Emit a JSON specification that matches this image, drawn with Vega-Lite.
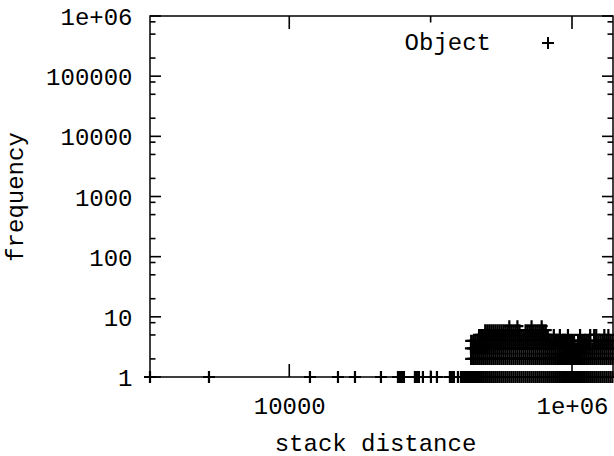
{
  "$schema": "https://vega.github.io/schema/vega-lite/v6.json",
  "width": 463,
  "height": 361,
  "autosize": {"type": "none"},
  "padding": {"left": 150, "top": 16, "right": 1, "bottom": 79},
  "background": "white",
  "config": {
    "font": "Liberation Mono",
    "view": {"stroke": "black", "strokeWidth": 1.5},
    "axis": {
      "domain": false,
      "ticks": false,
      "grid": false,
      "labelFlush": false,
      "labelOverlap": false
    }
  },
  "datasets": {
    "hist": [
      {"d": 1035, "f": 1}, {"d": 2705, "f": 1}, {"d": 14010, "f": 1}, {"d": 22110, "f": 1},
      {"d": 29170, "f": 1}, {"d": 44530, "f": 1}, {"d": 58740, "f": 1}, {"d": 60680, "f": 1},
      {"d": 62680, "f": 1}, {"d": 64750, "f": 1}, {"d": 77450, "f": 1}, {"d": 80010, "f": 1},
      {"d": 82660, "f": 1}, {"d": 88210, "f": 1}, {"d": 100500, "f": 1}, {"d": 110830, "f": 1},
      {"d": 136930, "f": 1}, {"d": 141480, "f": 1}, {"d": 146140, "f": 1}, {"d": 156000, "f": 1},
      {"d": 163790, "f": 1},
      {"d": 169270, "f": 1}, {"d": 174930, "f": 1}, {"d": 180780, "f": 1}, {"d": 186830, "f": 1},
      {"d": 193070, "f": 1}, {"d": 199530, "f": 1}, {"d": 206200, "f": 1}, {"d": 213100, "f": 1},
      {"d": 220230, "f": 1}, {"d": 227600, "f": 1}, {"d": 235210, "f": 1}, {"d": 243080, "f": 1},
      {"d": 251190, "f": 1}, {"d": 259590, "f": 1}, {"d": 268270, "f": 1}, {"d": 277250, "f": 1},
      {"d": 286520, "f": 1}, {"d": 296110, "f": 1}, {"d": 306020, "f": 1}, {"d": 316230, "f": 1},
      {"d": 326800, "f": 1}, {"d": 337730, "f": 1}, {"d": 349030, "f": 1}, {"d": 360710, "f": 1},
      {"d": 372760, "f": 1}, {"d": 385230, "f": 1}, {"d": 398110, "f": 1}, {"d": 411420, "f": 1},
      {"d": 425180, "f": 1}, {"d": 439400, "f": 1}, {"d": 454100, "f": 1}, {"d": 469290, "f": 1},
      {"d": 484990, "f": 1}, {"d": 501190, "f": 1}, {"d": 517950, "f": 1}, {"d": 535270, "f": 1},
      {"d": 553170, "f": 1}, {"d": 571670, "f": 1}, {"d": 590790, "f": 1}, {"d": 610540, "f": 1},
      {"d": 630960, "f": 1}, {"d": 652060, "f": 1}, {"d": 673860, "f": 1}, {"d": 696400, "f": 1},
      {"d": 719690, "f": 1}, {"d": 743760, "f": 1}, {"d": 768630, "f": 1}, {"d": 794330, "f": 1},
      {"d": 820900, "f": 1}, {"d": 848340, "f": 1}, {"d": 876720, "f": 1}, {"d": 906040, "f": 1},
      {"d": 936330, "f": 1}, {"d": 967650, "f": 1}, {"d": 1000000, "f": 1}, {"d": 1033400, "f": 1},
      {"d": 1068000, "f": 1}, {"d": 1103700, "f": 1}, {"d": 1140600, "f": 1}, {"d": 1178800, "f": 1},
      {"d": 1218200, "f": 1}, {"d": 1258900, "f": 1}, {"d": 1301000, "f": 1}, {"d": 1344500, "f": 1},
      {"d": 1389500, "f": 1}, {"d": 1436000, "f": 1}, {"d": 1484000, "f": 1}, {"d": 1533700, "f": 1},
      {"d": 1584900, "f": 1}, {"d": 1637900, "f": 1}, {"d": 1692700, "f": 1}, {"d": 1749300, "f": 1},
      {"d": 1807800, "f": 1}, {"d": 1868300, "f": 1}, {"d": 1930700, "f": 1},

      {"d": 193383, "f": 2}, {"d": 192783, "f": 3}, {"d": 193521, "f": 4},
      {"d": 199843, "f": 2}, {"d": 199243, "f": 3}, {"d": 199981, "f": 4},
      {"d": 206513, "f": 2}, {"d": 205913, "f": 3}, {"d": 206651, "f": 4},
      {"d": 213413, "f": 2}, {"d": 212813, "f": 3}, {"d": 213551, "f": 4},
      {"d": 220543, "f": 2}, {"d": 219943, "f": 3}, {"d": 220681, "f": 4}, {"d": 220101, "f": 5},
      {"d": 227913, "f": 2}, {"d": 227313, "f": 3}, {"d": 228051, "f": 4}, {"d": 227471, "f": 5},
      {"d": 235523, "f": 2}, {"d": 234923, "f": 3}, {"d": 235661, "f": 4}, {"d": 235081, "f": 5},
      {"d": 243393, "f": 2}, {"d": 242793, "f": 3}, {"d": 243531, "f": 4}, {"d": 242951, "f": 5}, {"d": 243287, "f": 6},
      {"d": 251503, "f": 2}, {"d": 250903, "f": 3}, {"d": 251641, "f": 4}, {"d": 251061, "f": 5}, {"d": 251397, "f": 6},
      {"d": 259903, "f": 2}, {"d": 259303, "f": 3}, {"d": 260041, "f": 4}, {"d": 259461, "f": 5}, {"d": 259797, "f": 6},
      {"d": 268583, "f": 2}, {"d": 267983, "f": 3}, {"d": 268721, "f": 4}, {"d": 268141, "f": 5}, {"d": 268477, "f": 6},
      {"d": 277563, "f": 2}, {"d": 276963, "f": 3}, {"d": 277701, "f": 4}, {"d": 277121, "f": 5}, {"d": 277457, "f": 6},
      {"d": 286833, "f": 2}, {"d": 286233, "f": 3}, {"d": 286971, "f": 4}, {"d": 286391, "f": 5}, {"d": 286727, "f": 6},
      {"d": 296423, "f": 2}, {"d": 295823, "f": 3}, {"d": 296561, "f": 4}, {"d": 295981, "f": 5}, {"d": 296317, "f": 6},
      {"d": 306333, "f": 2}, {"d": 305733, "f": 3}, {"d": 306471, "f": 4}, {"d": 305891, "f": 5}, {"d": 306227, "f": 6},
      {"d": 316543, "f": 2}, {"d": 315943, "f": 3}, {"d": 316681, "f": 4}, {"d": 316101, "f": 5}, {"d": 316437, "f": 6},
      {"d": 327113, "f": 2}, {"d": 326513, "f": 3}, {"d": 327251, "f": 4}, {"d": 326671, "f": 5}, {"d": 327007, "f": 6},
      {"d": 338043, "f": 2}, {"d": 337443, "f": 3}, {"d": 338181, "f": 4}, {"d": 337601, "f": 5}, {"d": 337937, "f": 6},
      {"d": 349343, "f": 2}, {"d": 348743, "f": 3}, {"d": 349481, "f": 4}, {"d": 348901, "f": 5}, {"d": 349237, "f": 6},
      {"d": 361023, "f": 2}, {"d": 360423, "f": 3}, {"d": 361161, "f": 4}, {"d": 360581, "f": 5}, {"d": 360917, "f": 6}, {"d": 360339, "f": 7},
      {"d": 373073, "f": 2}, {"d": 372473, "f": 3}, {"d": 373211, "f": 4}, {"d": 372631, "f": 5}, {"d": 372967, "f": 6},
      {"d": 385543, "f": 2}, {"d": 384943, "f": 3}, {"d": 385681, "f": 4}, {"d": 385101, "f": 5}, {"d": 385437, "f": 6},
      {"d": 398423, "f": 2}, {"d": 397823, "f": 3}, {"d": 398561, "f": 4}, {"d": 397981, "f": 5}, {"d": 398317, "f": 6},
      {"d": 411733, "f": 2}, {"d": 411133, "f": 3}, {"d": 411871, "f": 4}, {"d": 411291, "f": 5}, {"d": 411627, "f": 6}, {"d": 411049, "f": 7},
      {"d": 425493, "f": 2}, {"d": 424893, "f": 3}, {"d": 425631, "f": 4}, {"d": 425051, "f": 5}, {"d": 425387, "f": 6},
      {"d": 439713, "f": 2}, {"d": 439113, "f": 3}, {"d": 439851, "f": 4}, {"d": 439271, "f": 5},
      {"d": 454413, "f": 2}, {"d": 453813, "f": 3}, {"d": 454551, "f": 4}, {"d": 453971, "f": 5},
      {"d": 469603, "f": 2}, {"d": 469003, "f": 3}, {"d": 469741, "f": 4}, {"d": 469161, "f": 5}, {"d": 469497, "f": 6},
      {"d": 485303, "f": 2}, {"d": 484703, "f": 3}, {"d": 485441, "f": 4}, {"d": 484861, "f": 5}, {"d": 485197, "f": 6},
      {"d": 501503, "f": 2}, {"d": 500903, "f": 3}, {"d": 501641, "f": 4}, {"d": 501061, "f": 5}, {"d": 501397, "f": 6},
      {"d": 518263, "f": 2}, {"d": 517663, "f": 3}, {"d": 518401, "f": 4}, {"d": 517821, "f": 5}, {"d": 518157, "f": 6}, {"d": 517579, "f": 7},
      {"d": 535583, "f": 2}, {"d": 534983, "f": 3}, {"d": 535721, "f": 4}, {"d": 535141, "f": 5}, {"d": 535477, "f": 6},
      {"d": 553483, "f": 2}, {"d": 552883, "f": 3}, {"d": 553621, "f": 4}, {"d": 553041, "f": 5}, {"d": 553377, "f": 6},
      {"d": 571983, "f": 2}, {"d": 571383, "f": 3}, {"d": 572121, "f": 4}, {"d": 571541, "f": 5}, {"d": 571877, "f": 6},
      {"d": 591103, "f": 2}, {"d": 590503, "f": 3}, {"d": 591241, "f": 4}, {"d": 590661, "f": 5}, {"d": 590997, "f": 6},
      {"d": 610853, "f": 2}, {"d": 610253, "f": 3}, {"d": 610991, "f": 4}, {"d": 610411, "f": 5}, {"d": 610747, "f": 6}, {"d": 610169, "f": 7},
      {"d": 631273, "f": 2}, {"d": 630673, "f": 3}, {"d": 631411, "f": 4}, {"d": 630831, "f": 5}, {"d": 631167, "f": 6},
      {"d": 652373, "f": 2}, {"d": 651773, "f": 3}, {"d": 652511, "f": 4}, {"d": 651931, "f": 5}, {"d": 652267, "f": 6},
      {"d": 674173, "f": 2}, {"d": 673573, "f": 3}, {"d": 674311, "f": 4}, {"d": 673731, "f": 5},
      {"d": 696713, "f": 2}, {"d": 696113, "f": 3}, {"d": 696851, "f": 4},
      {"d": 720003, "f": 2}, {"d": 719403, "f": 3}, {"d": 720141, "f": 4},
      {"d": 744073, "f": 2}, {"d": 743473, "f": 3}, {"d": 744211, "f": 4}, {"d": 743631, "f": 5},
      {"d": 768943, "f": 2}, {"d": 768343, "f": 3}, {"d": 769081, "f": 4},
      {"d": 794643, "f": 2}, {"d": 794043, "f": 3}, {"d": 794781, "f": 4},
      {"d": 821213, "f": 2}, {"d": 820613, "f": 3}, {"d": 821351, "f": 4}, {"d": 820771, "f": 5},
      {"d": 848653, "f": 2}, {"d": 848053, "f": 3}, {"d": 848791, "f": 4},
      {"d": 877033, "f": 2}, {"d": 876433, "f": 3}, {"d": 877171, "f": 4},
      {"d": 906353, "f": 2}, {"d": 905753, "f": 3}, {"d": 906491, "f": 4},
      {"d": 936643, "f": 2}, {"d": 936043, "f": 3}, {"d": 936781, "f": 4}, {"d": 936201, "f": 5},
      {"d": 967963, "f": 2}, {"d": 967363, "f": 3}, {"d": 968101, "f": 4},
      {"d": 1000313, "f": 2}, {"d": 999713, "f": 3}, {"d": 1000451, "f": 4},
      {"d": 1033713, "f": 2}, {"d": 1033113, "f": 3}, {"d": 1033851, "f": 4},
      {"d": 1068313, "f": 2}, {"d": 1067713, "f": 3},
      {"d": 1104013, "f": 2}, {"d": 1103413, "f": 3}, {"d": 1104151, "f": 4},
      {"d": 1140913, "f": 2}, {"d": 1140313, "f": 3}, {"d": 1141051, "f": 4}, {"d": 1140471, "f": 5},
      {"d": 1179113, "f": 2}, {"d": 1178513, "f": 3}, {"d": 1179251, "f": 4},
      {"d": 1218513, "f": 2}, {"d": 1217913, "f": 3}, {"d": 1218651, "f": 4},
      {"d": 1259213, "f": 2}, {"d": 1258613, "f": 3}, {"d": 1259351, "f": 4},
      {"d": 1301313, "f": 2}, {"d": 1300713, "f": 3}, {"d": 1301451, "f": 4},
      {"d": 1344813, "f": 2}, {"d": 1344213, "f": 3}, {"d": 1344951, "f": 4}, {"d": 1344371, "f": 5},
      {"d": 1389813, "f": 2}, {"d": 1389213, "f": 3},
      {"d": 1436313, "f": 2}, {"d": 1435713, "f": 3}, {"d": 1436451, "f": 4}, {"d": 1435871, "f": 5},
      {"d": 1484313, "f": 2}, {"d": 1483713, "f": 3}, {"d": 1484451, "f": 4}, {"d": 1483871, "f": 5},
      {"d": 1534013, "f": 2}, {"d": 1533413, "f": 3}, {"d": 1534151, "f": 4},
      {"d": 1585213, "f": 2}, {"d": 1584613, "f": 3}, {"d": 1585351, "f": 4},
      {"d": 1638213, "f": 2}, {"d": 1637613, "f": 3}, {"d": 1638351, "f": 4},
      {"d": 1693013, "f": 2}, {"d": 1692413, "f": 3}, {"d": 1693151, "f": 4}, {"d": 1692571, "f": 5},
      {"d": 1749613, "f": 2}, {"d": 1749013, "f": 3}, {"d": 1749751, "f": 4},
      {"d": 1808113, "f": 2}, {"d": 1807513, "f": 3}, {"d": 1808251, "f": 4}, {"d": 1807671, "f": 5},
      {"d": 1868613, "f": 2}, {"d": 1868013, "f": 3}, {"d": 1868751, "f": 4},
      {"d": 1931013, "f": 2}, {"d": 1930413, "f": 3}, {"d": 1931151, "f": 4}
    ],
    "xMajor": [{"v": 10000}, {"v": 1000000}],
    "xMinor": [{"v": 100000}],
    "yMajor": [{"v": 1}, {"v": 10}, {"v": 100}, {"v": 1000}, {"v": 10000}, {"v": 100000}, {"v": 1000000}],
    "yMinor": [
      {"v": 2}, {"v": 5}, {"v": 8}, {"v": 20}, {"v": 50}, {"v": 80},
      {"v": 200}, {"v": 500}, {"v": 800}, {"v": 2000}, {"v": 5000}, {"v": 8000},
      {"v": 20000}, {"v": 50000}, {"v": 80000}, {"v": 200000}, {"v": 500000}, {"v": 800000}
    ]
  },
  "layer": [
    {
      "data": {"name": "hist"},
      "mark": {"type": "point", "shape": "M-1,0L1,0M0,-1L0,1", "filled": false, "size": 144, "strokeWidth": 2.2, "opacity": 1},
      "encoding": {
        "x": {
          "field": "d", "type": "quantitative",
          "scale": {"type": "log", "domain": [1035, 1950000], "nice": false},
          "axis": {
            "orient": "bottom", "values": [10000, 1000000], "ticks": false,
            "labelPadding": 36, "labelBaseline": "alphabetic",
            "labelFont": "Liberation Mono", "labelFontSize": 24, "labelColor": "black",
            "labelExpr": "datum.value >= 1000000 ? '1e+06' : format(datum.value, 'd')",
            "title": "stack distance", "titleX": 225, "titleY": 73,
            "titleFont": "Liberation Mono", "titleFontSize": 24, "titleFontWeight": "normal", "titleColor": "black",
            "titleBaseline": "alphabetic", "titleAlign": "center"
          }
        },
        "y": {
          "field": "f", "type": "quantitative",
          "scale": {"type": "log", "domain": [1, 1000000], "nice": false},
          "axis": {
            "orient": "left", "values": [1, 10, 100, 1000, 10000, 100000, 1000000], "ticks": false,
            "labelPadding": 18, "labelBaseline": "alphabetic", "labelOffset": 8.5, "labelAlign": "right",
            "labelFont": "Liberation Mono", "labelFontSize": 24, "labelColor": "black",
            "labelExpr": "datum.value >= 1000000 ? '1e+06' : format(datum.value, 'd')",
            "title": "frequency", "titleAngle": 270, "titleX": -128, "titleY": 180.5,
            "titleFont": "Liberation Mono", "titleFontSize": 24, "titleFontWeight": "normal", "titleColor": "black",
            "titleBaseline": "alphabetic", "titleAlign": "center"
          }
        },
        "color": {
          "datum": "Object",
          "scale": {"range": ["black"]},
          "legend": {
            "title": null, "orient": "none", "legendX": 386, "legendY": 15, "padding": 0,
            "symbolType": "M-1,0L1,0M0,-1L0,1", "symbolSize": 144, "symbolStrokeWidth": 2,
            "symbolStrokeColor": "black", "symbolFillColor": "transparent",
            "labelAlign": "right", "labelOffset": -69, "labelBaseline": "middle",
            "labelFont": "Liberation Mono", "labelFontSize": 24, "labelColor": "black", "labelLimit": 0
          }
        }
      }
    },
    {
      "data": {"name": "xMajor"},
      "mark": {"type": "rule", "color": "black", "strokeWidth": 1.6, "opacity": 1},
      "encoding": {
        "x": {"field": "v", "type": "quantitative"},
        "y": {"datum": 1, "type": "quantitative"},
        "y2": {"datum": 1.6445}
      }
    },
    {
      "data": {"name": "xMajor"},
      "mark": {"type": "rule", "color": "black", "strokeWidth": 1.6, "opacity": 1},
      "encoding": {
        "x": {"field": "v", "type": "quantitative"},
        "y": {"datum": 1000000, "type": "quantitative"},
        "y2": {"datum": 608090}
      }
    },
    {
      "data": {"name": "xMinor"},
      "mark": {"type": "rule", "color": "black", "strokeWidth": 1.6, "opacity": 1},
      "encoding": {
        "x": {"field": "v", "type": "quantitative"},
        "y": {"datum": 1, "type": "quantitative"},
        "y2": {"datum": 1.2824}
      }
    },
    {
      "data": {"name": "xMinor"},
      "mark": {"type": "rule", "color": "black", "strokeWidth": 1.6, "opacity": 1},
      "encoding": {
        "x": {"field": "v", "type": "quantitative"},
        "y": {"datum": 1000000, "type": "quantitative"},
        "y2": {"datum": 779800}
      }
    },
    {
      "data": {"name": "yMajor"},
      "mark": {"type": "rule", "color": "black", "strokeWidth": 1.6, "opacity": 1},
      "encoding": {
        "y": {"field": "v", "type": "quantitative"},
        "x": {"datum": 1035, "type": "quantitative"},
        "x2": {"datum": 1238}
      }
    },
    {
      "data": {"name": "yMajor"},
      "mark": {"type": "rule", "color": "black", "strokeWidth": 1.6, "opacity": 1},
      "encoding": {
        "y": {"field": "v", "type": "quantitative"},
        "x": {"datum": 1950000, "type": "quantitative"},
        "x2": {"datum": 1630000}
      }
    },
    {
      "data": {"name": "yMinor"},
      "mark": {"type": "rule", "color": "black", "strokeWidth": 1.6, "opacity": 1},
      "encoding": {
        "y": {"field": "v", "type": "quantitative"},
        "x": {"datum": 1035, "type": "quantitative"},
        "x2": {"datum": 1132}
      }
    },
    {
      "data": {"name": "yMinor"},
      "mark": {"type": "rule", "color": "black", "strokeWidth": 1.6, "opacity": 1},
      "encoding": {
        "y": {"field": "v", "type": "quantitative"},
        "x": {"datum": 1950000, "type": "quantitative"},
        "x2": {"datum": 1783000}
      }
    }
  ]
}
